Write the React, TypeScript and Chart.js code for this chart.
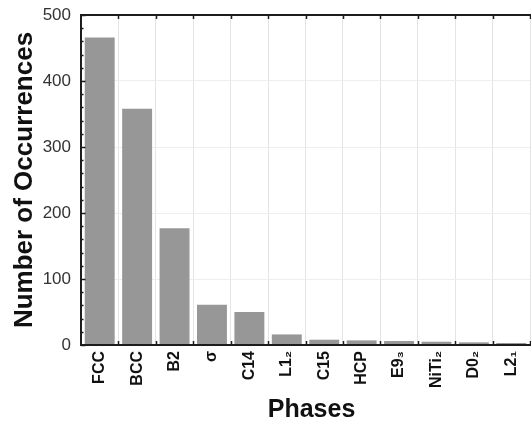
import React, { useEffect, useRef } from "react";
import { Chart, registerables } from "chart.js";

Chart.register(...registerables);

// Crystal phases and how often each one occurs
const phases = ["FCC", "BCC", "B2", "σ", "C14", "L1₂", "C15", "HCP", "E9₃", "NiTi₂", "D0₂", "L2₁"];
const occurrences = [466, 358, 177, 61, 50, 16, 8, 7, 6, 5, 4, 3];

// Value axis
const yMin = 0;
const yMax = 500;
const yMajorStep = 100;
const yMinorStep = 20;

const FONT = "'Liberation Sans', Arial, Helvetica, sans-serif";
const FRAME = "#1c1c1c";

// Frame lines and inward tick marks, drawn over the bars
const framePlugin = {
  id: "frame",
  afterDatasetsDraw(chart: any) {
    const { ctx, chartArea: a, scales } = chart;
    const x = scales.x;
    const y = scales.y;
    ctx.save();
    ctx.strokeStyle = FRAME;
    ctx.lineWidth = 2;
    ctx.beginPath();
    ctx.moveTo(a.left - 1, a.top);
    ctx.lineTo(chart.width, a.top);
    ctx.moveTo(a.left, a.top - 1);
    ctx.lineTo(a.left, a.bottom + 1);
    ctx.moveTo(a.left - 1, a.bottom);
    ctx.lineTo(chart.width, a.bottom);
    ctx.stroke();

    ctx.lineWidth = 1.5;
    ctx.beginPath();
    // category boundaries on top and bottom edges
    for (let i = 0; i < phases.length; i++) {
      const px = Math.round(x.getPixelForValue(i + 0.5)) + 0.5;
      ctx.moveTo(px, a.top);
      ctx.lineTo(px, a.top + 4);
      ctx.moveTo(px, a.bottom);
      ctx.lineTo(px, a.bottom - 4);
    }
    // major and minor ticks on the value axis
    for (let v = yMin; v <= yMax; v += yMinorStep) {
      const py = Math.round(y.getPixelForValue(v)) + 0.5;
      const len = v % yMajorStep === 0 ? 4.5 : 2.5;
      ctx.moveTo(a.left, py);
      ctx.lineTo(a.left + len, py);
    }
    ctx.stroke();
    ctx.restore();
  },
  afterDraw(chart: any) {
    const { ctx, chartArea: a } = chart;
    ctx.save();
    ctx.fillStyle = "#111111";
    ctx.font = `bold 25px ${FONT}`;
    ctx.textAlign = "center";
    ctx.textBaseline = "middle";
    ctx.fillText("Phases", (a.left + a.right) / 2 + 6, 410);
    ctx.restore();
  },
};

export default function App() {
  const canvasRef = useRef<HTMLCanvasElement | null>(null);

  useEffect(() => {
    const canvas = canvasRef.current;
    if (!canvas) return;
    const chart = new Chart(canvas, {
      type: "bar",
      data: {
        labels: phases,
        datasets: [
          {
            data: occurrences,
            backgroundColor: "#979797",
            borderWidth: 0,
            barPercentage: 0.8,
            categoryPercentage: 1,
          },
        ],
      },
      options: {
        animation: false,
        responsive: false,
        devicePixelRatio: 1,
        layout: { padding: { top: 15, right: 1, left: 0, bottom: 0 } },
        plugins: {
          legend: { display: false },
          tooltip: { enabled: false },
        },
        scales: {
          x: {
            offset: true,
            grid: {
              offset: true,
              color: "#e4e4e4",
              lineWidth: 1,
              drawTicks: false,
            },
            border: { display: false },
            ticks: {
              autoSkip: false,
              minRotation: 90,
              maxRotation: 90,
              padding: 6,
              color: "#111111",
              font: { family: FONT, size: 16, weight: "bold" },
            },
            afterFit(scale: any) {
              scale.height = 76;
              scale.paddingLeft = 0;
              scale.paddingRight = 0;
            },
          },
          y: {
            min: yMin,
            max: yMax,
            grid: {
              color: "#eeeeee",
              lineWidth: 1,
              drawTicks: false,
            },
            border: { display: false },
            ticks: {
              stepSize: yMajorStep,
              padding: 10,
              color: "#333333",
              font: { family: FONT, size: 17 },
            },
            title: {
              display: true,
              text: "Number of Occurrences",
              color: "#111111",
              font: { family: FONT, size: 26, weight: "bold", lineHeight: 1 },
              padding: { top: 12, bottom: 0 },
            },
            afterFit(scale: any) {
              scale.width = 81;
              scale.paddingTop = 0;
              scale.paddingBottom = 0;
            },
          },
        },
      },
      plugins: [framePlugin],
    });
    return () => chart.destroy();
  }, []);

  return (
    <div style={{ position: "absolute", left: 0, top: 0, width: 531, height: 421, background: "#ffffff" }}>
      <canvas ref={canvasRef} width={531} height={421} style={{ display: "block" }} />
    </div>
  );
}
